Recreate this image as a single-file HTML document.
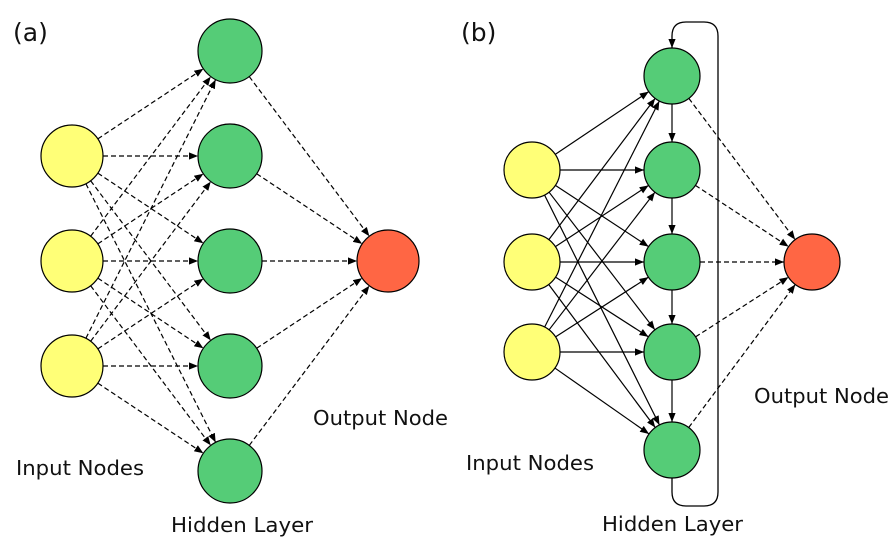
<!DOCTYPE html>
<html><head><meta charset="utf-8"><style>
html,body{margin:0;padding:0;background:#fff;}
svg{display:block;}
text{font-family:"DejaVu Sans","Liberation Sans",sans-serif;font-size:20px;fill:#111;}
</style></head><body>
<svg id="s" width="894" height="537" viewBox="0 0 894 537" xmlns="http://www.w3.org/2000/svg">
<defs>
<marker id="ah" viewBox="0 0 10 10" refX="10" refY="5" markerWidth="9" markerHeight="9" markerUnits="userSpaceOnUse" orient="auto"><path d="M0,1 L10,5 L0,9 z" fill="#000"/></marker>
</defs>
<g id="lines"></g>
<g id="nodes"></g>
<path d="M718,470 L718,492 Q718,506 704,506 L686,506 Q672,506 672,492 L672,478" fill="none" stroke="#000" stroke-width="1.3"/>
<path d="M718,470 L718,36 Q718,22 704,22 L686,22 Q672,22 672,36 L672,48" fill="none" stroke="#000" stroke-width="1.3" marker-end="url(#ah)"/>
<text x="13" y="41" style="font-size:25px">(a)</text>
<text x="461" y="41" style="font-size:25px">(b)</text>
<text x="16" y="475" textLength="128" lengthAdjust="spacingAndGlyphs">Input Nodes</text>
<text x="171" y="532" textLength="142" lengthAdjust="spacingAndGlyphs">Hidden Layer</text>
<text x="313" y="425" textLength="135" lengthAdjust="spacingAndGlyphs">Output Node</text>
<text x="466" y="470" textLength="128" lengthAdjust="spacingAndGlyphs">Input Nodes</text>
<text x="602" y="531" textLength="141" lengthAdjust="spacingAndGlyphs">Hidden Layer</text>
<text x="754" y="403" textLength="135" lengthAdjust="spacingAndGlyphs">Output Node</text>
</svg>
<script>
var NS="http://www.w3.org/2000/svg";
var L=document.getElementById('lines'),N=document.getElementById('nodes');
function line(a,b,dash){
 var dx=b[0]-a[0],dy=b[1]-a[1],d=Math.hypot(dx,dy),ux=dx/d,uy=dy/d;
 var l=document.createElementNS(NS,'line');
 l.setAttribute('x1',a[0]+ux*a[2]);l.setAttribute('y1',a[1]+uy*a[2]);
 l.setAttribute('x2',b[0]-ux*b[2]);l.setAttribute('y2',b[1]-uy*b[2]);
 l.setAttribute('stroke','#000');l.setAttribute('stroke-width','1.2');
 if(dash)l.setAttribute('stroke-dasharray','5,3');
 l.setAttribute('marker-end','url(#ah)');L.appendChild(l);
}
function circ(n,f){var c=document.createElementNS(NS,'circle');c.setAttribute('cx',n[0]);c.setAttribute('cy',n[1]);c.setAttribute('r',n[2]);c.setAttribute('fill',f);c.setAttribute('stroke','#000');c.setAttribute('stroke-width','1.2');N.appendChild(c);}
var aI=[[72,156,31],[72,261,31],[72,366,31]];
var aH=[[230,51,32],[230,156,32],[230,261,32],[230,366,32],[230,471,32]];
var aO=[388,261,31];
aI.forEach(function(i){aH.forEach(function(h){line(i,h,true);});});
aH.forEach(function(h){line(h,aO,true);});
var bI=[[532,170,28],[532,262,28],[532,352,28]];
var bH=[[672,76,28],[672,170,28],[672,262,28],[672,352,28],[672,450,28]];
var bO=[812,262,28];
bI.forEach(function(i){bH.forEach(function(h){line(i,h,false);});});
for(var k=0;k<4;k++)line(bH[k],bH[k+1],false);
bH.forEach(function(h){line(h,bO,true);});
aI.forEach(function(n){circ(n,'#ffff77');});
aH.forEach(function(n){circ(n,'#55cc77');});
circ(aO,'#ff6644');
bI.forEach(function(n){circ(n,'#ffff77');});
bH.forEach(function(n){circ(n,'#55cc77');});
circ(bO,'#ff6644');
</script>
</body></html>
